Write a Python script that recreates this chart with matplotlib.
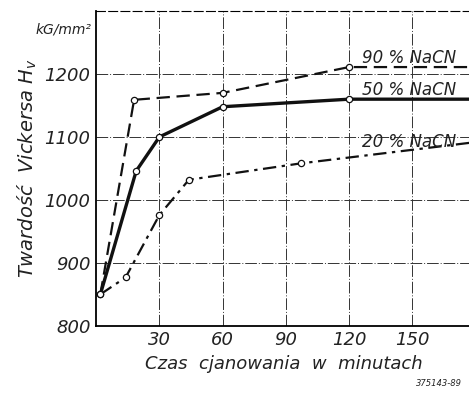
import matplotlib.pyplot as plt

# cyanide-bath hardness curves (Vickers HV vs time, min)
t_90 = [2, 18, 60, 120, 178]
hv_90 = [850, 1159, 1170, 1211, 1211]
m_90 = [1, 2, 3]

t_50 = [2, 19, 30, 60, 120, 178]
hv_50 = [850, 1046, 1100, 1148, 1160, 1160]
m_50 = [1, 2, 3, 4]

t_20 = [2, 14, 30, 44, 97, 178]
hv_20 = [850, 877, 976, 1032, 1058, 1091]
m_20 = [0, 1, 2, 3, 4]

x_ticks = [30, 60, 90, 120, 150]
y_ticks = [800, 900, 1000, 1100, 1200]

INK = "#111111"
TXT = dict(fontstyle="italic", color="#222222")

fig = plt.figure(figsize=(4.69, 3.94), dpi=100)
ax = fig.add_axes([0.205, 0.173, 0.80, 0.799])

ax.plot(t_90, hv_90, color=INK, lw=1.6, ls=(0, (6, 3)), marker="o",
        markevery=m_90, ms=4.5, mfc="white", mec=INK, mew=0.9)
ax.plot(t_50, hv_50, color=INK, lw=2.4, ls="-", marker="o",
        markevery=m_50, ms=4.5, mfc="white", mec=INK, mew=0.9)
ax.plot(t_20, hv_20, color=INK, lw=1.6, ls=(0, (6, 2.5, 1.5, 2.5)), marker="o",
        markevery=m_20, ms=4.5, mfc="white", mec=INK, mew=0.9)
ax.plot([2], [850], "o", ms=4.5, mfc="white", mec=INK, mew=0.9)

ax.text(126, 1218, "90 % NaCN", fontsize=12, **TXT)
ax.text(126, 1166, "50 % NaCN", fontsize=12, **TXT)
ax.text(126, 1084, "20 % NaCN", fontsize=12, **TXT)

ax.set_xlim(0, 178)
ax.set_ylim(800, 1300)
ax.set_xticks(x_ticks)
ax.set_yticks(y_ticks)
ax.set_xticklabels([str(v) for v in x_ticks], fontsize=13, **TXT)
ax.set_yticklabels([str(v) for v in y_ticks], fontsize=13, **TXT)
ax.tick_params(length=0, pad=4)
ax.grid(True, color="#333333", lw=0.7, ls=(0, (12, 2, 1, 2)))

ax.spines["right"].set_visible(False)
ax.spines["top"].set_linestyle((0, (8, 3)))
ax.spines["top"].set_linewidth(0.8)
ax.spines["left"].set_linewidth(1.3)
ax.spines["bottom"].set_linewidth(1.3)

ax.set_xlabel("Czas  cjanowania  w  minutach", fontsize=13, labelpad=4, **TXT)
ax.set_ylabel("Twardość  Vickersa $H_v$", fontsize=14, labelpad=4, **TXT)
fig.text(0.195, 0.915, "kG/mm²", fontsize=10, ha="right", **TXT)
fig.text(0.985, 0.02, "375143-89", fontsize=6, ha="right", **TXT)

fig.savefig("out.png", dpi=100)
